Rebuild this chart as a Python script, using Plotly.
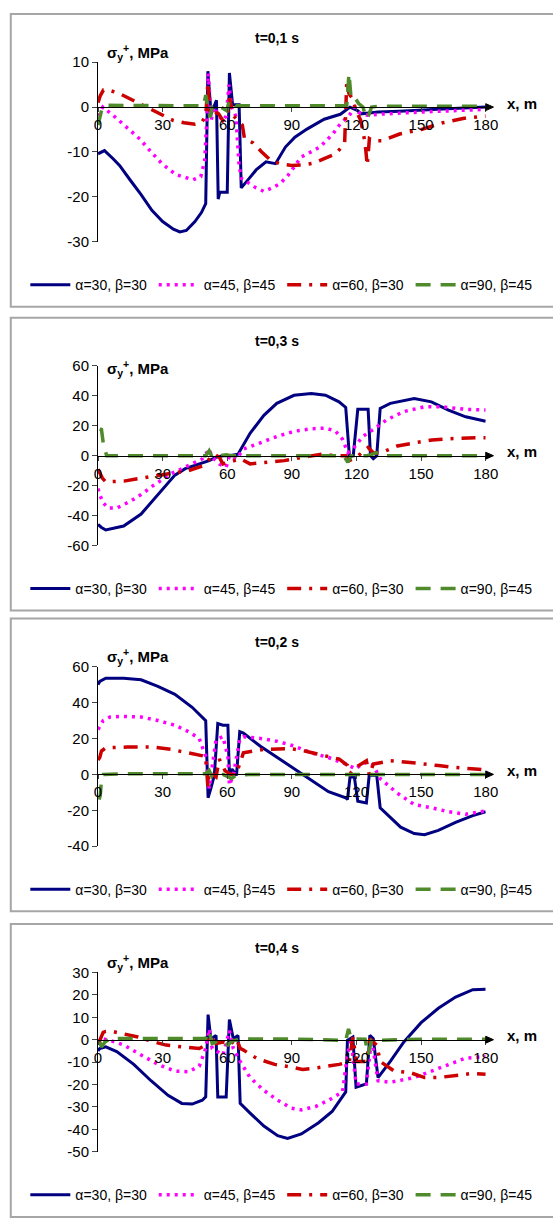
import plotly.graph_objects as go

W, H = 553, 1221

# ---------------- data ----------------
titles = ["t=0,1 s", "t=0,3 s", "t=0,2 s", "t=0,4 s"]
series_names = ["α=30, β=30", "α=45, β=45", "α=60, β=30", "α=90, β=45"]
x_ticks = [0, 30, 60, 90, 120, 150, 180]
y_ranges = [(-30, 10), (-60, 60), (-40, 60), (-50, 30)]
y_tickvals = [
    [10, 0, -10, -20, -30],
    [60, 40, 20, 0, -20, -40, -60],
    [60, 40, 20, 0, -20, -40],
    [30, 20, 10, 0, -10, -20, -30, -40, -50],
]
y_ticktext = [
    ["10", "0", "-10", "-20", "-30"],
    ["60", "40", "20", "0", "-20", "-40", "-60"],
    ["60", "40", "20", "0", "-20", "-40"],
    ["30", "20", "10", "0", "-10", "-20", "-30", "-40", "-50"],
]

# panel 1 : t=0,1 s
p1_blue_x = [0, 3, 7, 10, 15, 20, 25, 30, 35, 38, 41, 45, 48, 50, 51, 52.5, 55, 55.8, 56.5, 60, 61, 62.5, 65.5, 66.5,
             70, 73.4, 78, 82.4, 87, 91.4, 97, 105, 112.5, 117, 120.6, 122, 126, 130, 140, 150, 160, 170, 180]
p1_blue_y = [-10.4, -9.7, -11.5, -13, -16.3, -19.5, -23, -25.5, -27.2, -27.8, -27.5, -25.5, -23.5, -21.5, 8, -1.5, 1.5,
             -20.5, -19, -19, 7.6, 0.5, 0.5, -18, -16, -14, -12.2, -12.6, -8.9, -6.7, -4.9, -2.7, -1.6, 0, -0.8, -1.5,
             -1.3, -1.1, -0.9, -0.6, -0.4, -0.2, 0]
p1_mag_x = [0, 2.2, 7.2, 13.5, 19.4, 23.9, 29.7, 36, 44, 47.7, 49.5, 50.5, 51.2, 52.5, 54, 56, 58, 59.5, 60.8, 62, 64,
            65.5, 66.6, 73.4, 77.1, 80.9, 84.6, 88.4, 94.4, 97.3, 103, 109, 112.4, 117, 119, 121, 125, 130, 140, 150,
            160, 170, 180]
p1_mag_y = [-2, 0, -1.9, -4.5, -7.1, -9.6, -12.6, -15, -16.2, -15.5, -12, -3, 7.5, -3, 0, -2, -3, -2, 5, 0, -2, -13,
            -15.9, -18, -18.8, -18, -17, -15.1, -11.1, -10.4, -8.9, -6, -3.8, -1.6, 0, -1.2, -1.8, -1.6, -1.3, -1.1,
            -0.9, -0.7, -0.5]
p1_red_x = [0, 1, 2.5, 5, 10, 15, 20, 25, 30, 35, 40, 45, 48, 50, 51, 52, 54, 56, 58, 60, 61, 63, 65, 67, 68, 72, 76,
            80, 85, 90, 95, 100, 105, 110, 113, 114.5, 115.5, 116.5, 118, 120, 122, 124, 125, 126, 128, 132, 140, 150,
            160, 170, 180]
p1_red_y = [1, 2.5, 3.8, 3.8, 3, 1.8, 0.5, -0.5, -1.8, -3, -3.5, -3.8, -3.5, -2, 5.5, -1.5, -1, -1.5, -3, -2, 2, -2,
            -3, -4, -7, -8, -10, -11.8, -12.7, -13, -12.9, -12.5, -11.5, -10.5, -9, -8, 6, 3, 2, -1, -3, -8, -13, -7,
            -7.5, -7.5, -6, -5, -3.5, -2.5, -2]
p1_grn_x = [0, 1, 2, 4, 10, 20, 30, 40, 49, 50, 51, 52, 53, 55, 57, 59.8, 61, 62, 64, 66, 70, 90, 110, 114, 115.5,
            116.5, 117.5, 119, 121, 123, 124.5, 125.5, 127, 130, 150, 180]
p1_grn_y = [-4, -2, 0, 0.4, 0.4, 0.3, 0.3, 0.3, 0.3, 2.7, 0, -2.3, 0, -0.5, 0, -0.8, 1.6, 1.2, 0.3, 0.3, 0.3, 0.3,
            0.3, 0.3, 0.5, 7.5, 2, 2.3, 0.8, 0, -2.5, -2, 0, 0.2, 0.2, 0.2]

# panel 2 : t=0,3 s
p2_blue_x = [0, 1.6, 3.6, 11.9, 20, 27.8, 35.7, 40.5, 47, 51.6, 54.8, 58, 61, 65, 70.6, 77, 83, 91, 99, 105.6, 111.9,
             115, 116.7, 118.5, 120.6, 125.4, 126.5, 127.8, 129.4, 131, 135.7, 146.8, 154.8, 162.7, 170.7, 180]
p2_blue_y = [-46, -48, -49.7, -47, -39, -26, -13, -8.7, -5.5, -3.3, -1, 0, 0, 1, 15, 27, 35, 40.4, 41.5, 40.4, 36,
             32.3, 0, 0, 31, 31, 0, -2, 0, 31.6, 35, 38.2, 36, 30.5, 26, 23]
p2_mag_x = [0, 0.8, 2.4, 4.8, 8.7, 15, 20, 26, 34, 42, 48.4, 51.6, 53, 56.3, 59.5, 61, 64.3, 67.5, 75.4, 83.4, 91.3,
            99.2, 105.6, 110.3, 113.5, 116, 118.3, 123, 127.8, 134, 142, 151.6, 159.6, 170.7, 180]
p2_mag_y = [-22, -26, -31.6, -35, -35, -30.5, -26, -19.6, -12, -6.5, -2.2, 4.4, -1, -5.5, -7.6, 0, -2.2, 4.4, 8.7, 13,
            16.4, 18, 18.5, 16.4, 11, 2, 4.4, 13, 17.5, 24, 29.5, 32.7, 32.7, 31, 30.5]
p2_red_x = [0, 0.8, 2, 3.6, 7, 12, 20, 26, 34, 42, 48.4, 51.6, 54, 56.3, 58, 61, 66, 70.6, 80, 86.5, 95, 104, 110,
            115, 116.7, 120, 125.4, 127.8, 131, 139, 148.6, 155, 163, 170.7, 175.6, 180]
p2_red_y = [-9, -12, -15, -17.5, -17.5, -17, -15, -13.7, -12, -10, -7, -2.2, 1, -1, -5.5, -4.4, -2, -5.5, -4.4, -3.3,
            -1, 1, 0, 0, -3.3, -1, 5.5, 2, 1.7, 6.5, 9, 10.5, 11.3, 12, 12, 12]
p2_grn_x = [0.8, 1.6, 2.4, 4, 10, 30, 50, 51.6, 53, 56, 59.5, 62, 66, 90, 114, 116, 117.5, 125, 130, 132.6, 150, 180]
p2_grn_y = [18, 17.5, 8.7, 0, 0, 0, 0, 3.3, -1, 0, 0.6, 0, 0, 0, 0, -4.4, 0, 0, 2.2, 0, 0, 0]

# panel 3 : t=0,2 s
p3_blue_x = [0, 0.8, 3.6, 11.9, 20, 27.8, 35.7, 43.7, 50, 51.1, 52.4, 54, 55.6, 58, 60.3, 61, 62.2, 64.3, 65.8, 67.5,
             75.4, 83.4, 91.3, 96, 99, 107, 115, 115.8, 117, 119, 120.6, 124.6, 125.9, 129.4, 131, 135.7, 140.5, 146.8,
             151.6, 158, 166, 174, 180]
p3_blue_y = [50, 51.8, 53.6, 53.6, 52.7, 49, 44.6, 37.4, 30, -13, -7.8, -0.5, 28.3, 27.4, 27.4, -0.5, 3, -0.5, 23.8, 23,
             15.7, 9.4, 3, -0.5, -3.2, -9.6, -13, -14, -1.4, -1.4, -15, -15.9, -0.5, -0.5, -18.6, -24, -29.4, -33,
             -33.6, -31.2, -26.7, -23, -20.8]
p3_mag_x = [0, 0.8, 2.4, 5.6, 12, 20, 27.8, 35.7, 42, 47, 50, 51.6, 54.8, 58, 60.3, 61, 62.8, 65.8, 67.5, 75.4, 83.4,
            91.3, 99, 107, 115, 119.8, 123, 127.8, 131, 139, 146.8, 154.8, 162.7, 170.7, 180]
p3_mag_y = [25, 26.5, 30, 32, 32.3, 32, 30, 27.4, 23.8, 20, 10, -7.8, 19.3, 21, 10, -6, -0.5, 19.3, 21, 20, 18.4, 15.7,
            12, 9.4, 5.8, 3, 6.7, 5, -2.3, -10.5, -16.8, -18.6, -20.8, -22.2, -20.4]
p3_red_x = [0, 0.8, 1.6, 3.6, 13.5, 26, 34, 42, 50, 51, 51.6, 54.8, 56.3, 59, 61, 64, 67.5, 77, 83, 89.7, 96, 104, 112,
            115.8, 117, 119.8, 124.6, 126, 127.8, 135.7, 142, 150, 158, 164.3, 175, 180]
p3_red_y = [8, 9.4, 13, 14.8, 15.2, 15.2, 13.9, 12, 10, -6.9, 1.3, -1.4, 8.5, 2, 0.4, -0.5, 12, 14, 14, 14.3, 13, 11,
            8.5, 5, 0.4, 4, 7.6, -0.5, 5.8, 7.6, 6.7, 6, 4.9, 4, 3, 2.5]
p3_grn_x = [0.5, 1, 1.5, 2.5, 10, 30, 50, 51.6, 53, 58, 62, 64, 70, 90, 110, 130, 150, 180]
p3_grn_y = [-14, -12, -5, 0, 0.3, 0.3, 0.3, 2.2, -1.4, 0, -2.3, -0.5, 0, 0, 0, 0, 0, 0]

# panel 4 : t=0,4 s
p4_blue_x = [0, 0.8, 3.6, 8.7, 16.6, 24.6, 32.5, 38.9, 43.7, 48.4, 50, 51.1, 52.4, 54.8, 55.6, 59.5, 61, 62.8, 65, 66,
             70.6, 77, 83.4, 88, 94.4, 102.4, 108.7, 115, 115.8, 118.3, 119.8, 124.6, 126.2, 127.8, 130, 135.7, 142,
             150, 158, 166, 174, 180]
p4_blue_y = [-5, -3.9, -3.2, -5.3, -11, -18.3, -24.8, -28.4, -28.7, -27, -25.5, 11.2, 0.4, 1.9, -25.5, -25.5, 9, 0.4,
             1.9, -28.4, -32.7, -38.5, -42.8, -44, -42, -37, -32, -23.3, -0.3, 1.2, -21.2, -19.7, 1.9, 0.4, -16.9,
             -9.7, -1, 7.6, 14, 19, 22.3, 22.5]
p4_mag_x = [0, 0.8, 2.4, 5.6, 12, 20, 27.8, 35.7, 42, 47, 50, 51.6, 53, 58, 61, 62.8, 66, 70.6, 77, 83.4, 89.7, 94.4,
            101, 107, 113.5, 115.8, 117.5, 119.8, 124.6, 127, 130, 135.7, 146.8, 154.8, 162.7, 170.7, 180]
p4_mag_y = [-2, -1, 0.4, -0.3, -2.4, -6.8, -11, -14, -14.3, -11.8, -3.9, 4.8, -3.9, -6.8, 4, -3.9, -9.7, -16.9, -22.6,
            -27, -30.5, -31.3, -29.8, -27, -23.3, -6.8, -0.3, -19.7, -19.7, 0.4, -18.3, -19, -16.9, -14, -11, -8.2,
            -7.5]
p4_red_x = [0, 0.8, 2.4, 3.6, 7, 12.7, 18.5, 26, 31.6, 39, 47, 50, 51.6, 54.8, 58, 61, 64.3, 66, 67.5, 74, 82, 91.3, 95,
            102, 112, 116.7, 118.3, 120, 124.6, 126.2, 129.4, 131, 137.5, 145, 151.6, 158, 166, 174, 180]
p4_red_y = [-1, -0.3, 3.3, 3.7, 3.6, 2.6, 1.2, -1, -2.4, -3.2, -3.9, -2.4, 1.9, -1.7, -1, -2.4, 0.4, -3.9, -4.6, -8.5,
            -11, -12.5, -13.3, -12.5, -11, -9.7, 1.2, -9.7, -9.7, 0.4, -2.4, -9.7, -14, -14.7, -16.9, -16.9, -16, -15,
            -15.4]
p4_grn_x = [0.8, 1.6, 3.2, 5.6, 10, 30, 50, 51.6, 53, 57, 60.3, 62.8, 70, 90, 115, 116.3, 117.5, 124, 125.4, 127, 150,
            180]
p4_grn_y = [-1, -3.2, -1, 0.4, 0.5, 0.5, 0.5, 4, -1.7, 0, -2.4, -0.3, 0.3, 0.3, -0.3, 4.8, 0.4, 0.2, -6.8, -0.3, 0.2,
            0.2]

panels = [
    [(p1_blue_x, p1_blue_y), (p1_mag_x, p1_mag_y), (p1_red_x, p1_red_y), (p1_grn_x, p1_grn_y)],
    [(p2_blue_x, p2_blue_y), (p2_mag_x, p2_mag_y), (p2_red_x, p2_red_y), (p2_grn_x, p2_grn_y)],
    [(p3_blue_x, p3_blue_y), (p3_mag_x, p3_mag_y), (p3_red_x, p3_red_y), (p3_grn_x, p3_grn_y)],
    [(p4_blue_x, p4_blue_y), (p4_mag_x, p4_mag_y), (p4_red_x, p4_red_y), (p4_grn_x, p4_grn_y)],
]

# ---------------- styling ----------------
colors = ["#000080", "#FF00FF", "#CC0000", "#4F8A2B"]
dashes = ["solid", "3px,5px", "14px,8px,3px,8px", "15px,10px"]
widths = [3, 3.5, 3.5, 3.5]
FONT = "Liberation Sans, Arial, sans-serif"

offsets = [0, 308, 613, 923]
AX_TOP, AX_BOT = 54, 236          # pixel rows of the y axis in panel 1
X_LEFT, X_RIGHT = 97, 497         # pixel columns of x = 0 .. 180
LEGEND_X = [22, 154.5, 287, 419.5]  # left edge of each legend entry (px)


def fy(py):
    return 1 - py / H


def fx(px):
    return px / W


fig = go.Figure()
layout = dict(
    width=W, height=H, margin=dict(l=0, r=0, t=0, b=0),
    paper_bgcolor="white", plot_bgcolor="rgba(0,0,0,0)",
    font=dict(family=FONT, size=15, color="black"),
    shapes=[], annotations=[],
)

for i, data in enumerate(panels):
    off = offsets[i]
    n = "" if i == 0 else str(i + 1)
    ymin, ymax = y_ranges[i]
    top, bot = AX_TOP + off, AX_BOT + off
    zero_py = top + (ymax - 0) / (ymax - ymin) * (bot - top)

    for k, (xs, ys) in enumerate(data):
        j = i * 4 + k + 1
        lg = "legend" if j == 1 else "legend%d" % j
        fig.add_trace(go.Scatter(
            x=xs, y=ys, mode="lines", name=series_names[k],
            line=dict(color=colors[k], width=widths[k], dash=dashes[k]),
            xaxis="x" + n, yaxis="y" + n, legend=lg, showlegend=True,
        ))
        layout[lg] = dict(
            orientation="h", x=fx(LEGEND_X[k]), xanchor="left",
            y=fy(280 + off), yanchor="middle", font=dict(size=14),
            itemwidth=40, bgcolor="rgba(0,0,0,0)", itemclick=False,
        )

    layout["xaxis" + n] = dict(
        domain=[fx(X_LEFT), fx(X_RIGHT)], range=[0, 180], anchor="free",
        position=fy(zero_py), tickvals=x_ticks, ticks="outside", ticklen=4,
        showline=True, linecolor="black", linewidth=1, showgrid=False,
        zeroline=False, tickfont=dict(size=15), fixedrange=True,
    )
    layout["yaxis" + n] = dict(
        domain=[fy(bot), fy(top)], range=[ymin, ymax],
        tickvals=y_tickvals[i], ticktext=y_ticktext[i],
        anchor="x" + n, ticks="outside", ticklen=5, showline=True,
        linecolor="black", linewidth=1, showgrid=False, zeroline=False,
        tickfont=dict(size=15), fixedrange=True,
    )
    # panel frame
    layout["shapes"].append(dict(
        type="rect", xref="paper", yref="paper", x0=fx(7), x1=fx(570),
        y0=fy(302 + off), y1=fy(5 + off), line=dict(color="#A6A6A6", width=2),
    ))
    # arrow head at the end of the x axis
    layout["shapes"].append(dict(
        type="path", xref="paper", yref="paper",
        path="M %.5f %.5f L %.5f %.5f L %.5f %.5f Z" % (
            fx(505), fy(zero_py), fx(497), fy(zero_py - 3.5), fx(497), fy(zero_py + 3.5)),
        fillcolor="black", line=dict(color="black", width=1),
    ))
    # title
    layout["annotations"].append(dict(
        text="<b>" + titles[i] + "</b>", xref="paper", yref="paper",
        x=fx(282), y=fy(29 + off), xanchor="center", yanchor="middle",
        showarrow=False, font=dict(size=14),
    ))
    # y label
    ylab_py = top - 10 if i != 1 else top + 3
    layout["annotations"].append(dict(
        text="<b>σ<sub>y</sub><sup>+</sup>, MPa</b>", xref="paper", yref="paper",
        x=fx(104), y=fy(ylab_py), xanchor="left", yanchor="middle",
        showarrow=False, font=dict(size=15),
    ))
    # x label
    layout["annotations"].append(dict(
        text="<b>x, m</b>", xref="paper", yref="paper",
        x=fx(517), y=fy(zero_py - 4), xanchor="left", yanchor="middle",
        showarrow=False, font=dict(size=15),
    ))

fig.update_layout(**layout)
fig.write_html("out.html")
